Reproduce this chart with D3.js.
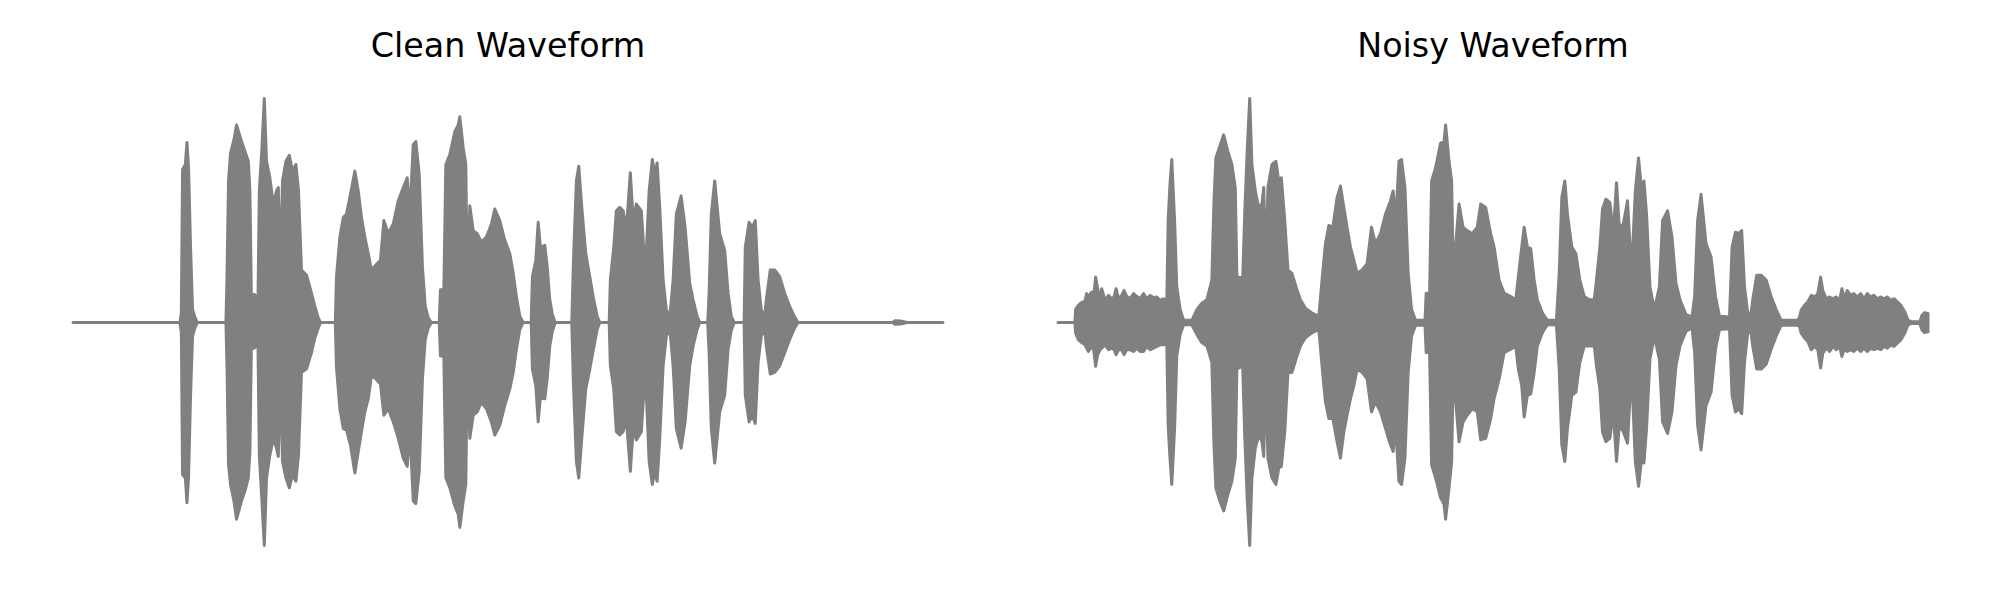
<!DOCTYPE html>
<html>
<head>
<meta charset="utf-8">
<script src="https://cdn.jsdelivr.net/npm/d3@7"></script>
<style>
  html, body { margin: 0; padding: 0; background: #ffffff; }
  svg { display: block; }
</style>
</head>
<body>
<div id="chart"></div>
<script>
// ---- Data (envelopes; time in s, amplitude normalized) ----
const titles = ["Clean Waveform", "Noisy Waveform"];

const cleanTime = [0.000,0.535,0.542,0.548,0.562,0.570,0.578,0.588,0.598,0.610,0.622,
  0.765,0.770,0.778,0.788,0.805,0.818,0.843,0.860,0.877,0.885,0.892,0.910,0.925,0.932,0.945,0.957,0.968,0.985,1.002,1.018,1.027,1.037,1.048,1.065,1.082,1.098,1.115,1.128,1.143,1.168,1.193,1.210,1.227,1.238,
  1.312,1.318,1.335,1.352,1.368,1.388,1.410,1.427,1.443,1.460,1.477,1.493,1.515,1.538,1.555,1.577,1.602,1.627,1.652,1.672,1.685,1.702,1.715,1.732,1.748,1.762,1.777,1.793,
  1.832,1.838,1.855,1.865,1.885,1.910,1.927,1.935,1.952,1.965,1.973,1.985,2.002,2.022,2.043,2.068,2.093,2.110,2.135,2.160,2.185,2.202,2.218,2.235,2.252,
  2.292,2.298,2.315,2.327,2.338,2.360,2.372,2.385,2.398,2.412,
  2.495,2.503,2.518,2.530,2.545,2.565,2.582,2.602,2.622,2.635,
  2.682,2.688,2.705,2.718,2.735,2.752,2.768,2.788,2.802,2.818,2.843,2.863,2.882,2.898,2.910,2.922,2.935,2.952,2.968,2.985,3.002,3.018,3.042,3.062,3.085,3.102,3.122,3.135,
  3.175,3.182,3.193,3.210,3.235,3.260,3.277,3.293,3.308,
  3.357,3.363,3.382,3.398,3.413,3.427,3.443,3.460,3.468,3.488,3.510,3.535,3.560,3.585,3.610,3.627,
  4.100,4.112,4.140,4.172,4.352];
const cleanUpper = [0,0,0.043,0.687,0.710,0.809,0.695,0.339,0.058,0.025,0,
  0,0.191,0.636,0.761,0.821,0.887,0.813,0.769,0.724,0.591,0.132,0.124,0.073,0.591,0.784,1.006,0.724,0.650,0.532,0.591,0.606,0.221,0.636,0.724,0.751,0.680,0.710,0.591,0.236,0.213,0.132,0.073,0.021,0,
  0,0.206,0.384,0.473,0.487,0.576,0.680,0.591,0.473,0.384,0.310,0.236,0.258,0.280,0.458,0.399,0.443,0.547,0.606,0.650,0.487,0.799,0.813,0.665,0.250,0.073,0.021,0,
  0,0.147,0.147,0.710,0.754,0.858,0.887,0.924,0.784,0.710,0.132,0.524,0.413,0.399,0.361,0.384,0.443,0.510,0.458,0.369,0.310,0.221,0.117,0.028,0,
  0,0.206,0.280,0.450,0.339,0.347,0.250,0.102,0.036,0,
  0,0.265,0.636,0.702,0.517,0.310,0.221,0.117,0.028,0,
  0,0.191,0.339,0.502,0.517,0.502,0.413,0.673,0.458,0.532,0.502,0.221,0.591,0.732,0.665,0.717,0.517,0.191,0.058,0.021,0.191,0.487,0.569,0.428,0.176,0.102,0.028,0,
  0,0.132,0.487,0.636,0.399,0.324,0.132,0.028,0,
  0,0.339,0.450,0.428,0.458,0.191,0.058,0.025,0.102,0.236,0.236,0.206,0.132,0.073,0.025,0,
  0,0.008,0.007,0,0];
const cleanLower = [0,0,-0.046,-0.683,-0.698,-0.809,-0.698,-0.327,-0.061,-0.024,0,
  0,-0.179,-0.639,-0.727,-0.801,-0.883,-0.801,-0.757,-0.698,-0.579,-0.120,-0.113,-0.076,-0.594,-0.801,-1.001,-0.698,-0.594,-0.520,-0.564,-0.601,-0.224,-0.624,-0.698,-0.742,-0.683,-0.713,-0.594,-0.224,-0.209,-0.135,-0.068,-0.024,0,
  0,-0.201,-0.387,-0.476,-0.483,-0.550,-0.676,-0.579,-0.490,-0.401,-0.342,-0.239,-0.253,-0.276,-0.416,-0.387,-0.446,-0.520,-0.609,-0.646,-0.476,-0.801,-0.813,-0.668,-0.253,-0.076,-0.024,0,
  0,-0.150,-0.150,-0.698,-0.742,-0.824,-0.861,-0.920,-0.801,-0.727,-0.127,-0.520,-0.416,-0.401,-0.357,-0.387,-0.446,-0.505,-0.461,-0.372,-0.298,-0.224,-0.120,-0.031,0,
  0,-0.209,-0.283,-0.446,-0.335,-0.342,-0.253,-0.105,-0.039,0,
  0,-0.268,-0.624,-0.698,-0.520,-0.298,-0.224,-0.127,-0.031,0,
  0,-0.194,-0.298,-0.490,-0.505,-0.490,-0.431,-0.668,-0.476,-0.527,-0.490,-0.209,-0.624,-0.727,-0.668,-0.713,-0.520,-0.194,-0.061,-0.024,-0.194,-0.476,-0.564,-0.446,-0.194,-0.105,-0.031,0,
  0,-0.135,-0.476,-0.631,-0.401,-0.327,-0.120,-0.034,0,
  0,-0.327,-0.446,-0.416,-0.453,-0.179,-0.061,-0.024,-0.105,-0.231,-0.224,-0.194,-0.135,-0.076,-0.024,0,
  0,-0.008,-0.007,0,0];

const noisyTime = [0.000,0.082,
  0.085,0.088,0.102,0.118,0.135,0.143,0.152,0.168,0.178,0.188,0.198,0.210,0.218,0.235,0.252,0.268,0.280,0.290,0.302,0.318,0.330,0.343,0.360,0.377,0.393,0.410,0.427,0.443,0.460,0.477,0.493,0.510,0.527,0.543,
  0.550,0.558,0.568,0.582,0.593,0.610,0.627,0.668,0.693,0.718,0.743,0.768,0.778,0.788,0.805,0.827,0.848,0.868,0.885,0.893,0.922,0.932,0.945,0.957,0.968,0.985,1.002,1.018,1.027,1.037,1.048,1.068,1.088,1.102,1.115,1.132,1.148,1.168,1.188,1.210,1.235,1.268,1.302,
  1.318,1.335,1.352,1.372,1.393,1.410,1.427,1.443,1.460,1.477,1.493,1.518,1.543,1.565,1.585,1.610,1.635,1.660,1.673,1.685,1.702,1.715,1.732,1.748,1.765,1.785,1.832,
  1.838,1.855,1.865,1.885,1.910,1.927,1.935,1.952,1.965,1.973,2.002,2.022,2.043,2.068,2.093,2.110,2.135,2.160,2.177,2.202,2.227,2.260,2.285,
  2.298,2.315,2.327,2.343,2.360,2.377,2.393,2.418,2.443,2.488,
  2.502,2.515,2.530,2.543,2.565,2.585,2.605,2.627,2.652,2.677,
  2.688,2.705,2.718,2.735,2.755,2.772,2.788,2.802,2.822,2.843,2.863,2.882,2.898,2.912,2.925,2.938,2.955,2.977,3.002,3.018,3.043,3.065,3.085,3.105,3.135,3.165,
  3.178,3.193,3.210,3.235,3.260,3.282,3.302,3.352,
  3.365,3.382,3.398,3.413,3.427,3.443,3.460,3.468,3.488,3.510,3.535,3.560,3.585,3.610,3.693,
  3.702,3.710,3.727,3.743,3.760,3.777,3.793,3.807,3.818,3.835,3.852,3.868,3.885,3.902,3.913,3.927,3.940,3.957,3.973,3.990,
  4.007,4.023,4.040,4.057,4.073,4.090,4.107,4.123,4.140,4.157,4.173,4.190,4.207,4.227,4.243,4.260,4.302,4.313,4.325,4.343];
const noisyUpper = [0,0,
  0.011,0.059,0.078,0.090,0.097,0.130,0.118,0.137,0.115,0.204,0.152,0.107,0.152,0.100,0.122,0.107,0.115,0.152,0.107,0.122,0.144,0.118,0.107,0.130,0.118,0.107,0.130,0.107,0.122,0.112,0.115,0.100,0.107,0.093,
  0.458,0.606,0.732,0.458,0.161,0.058,0.010,0.010,0.058,0.087,0.102,0.191,0.532,0.739,0.784,0.843,0.769,0.710,0.606,0.206,0.199,0.487,0.784,1.006,0.710,0.591,0.517,0.532,0.606,0.236,0.606,0.710,0.724,0.636,0.650,0.458,0.236,0.221,0.161,0.102,0.065,0.043,0.028,
  0.191,0.354,0.436,0.428,0.561,0.613,0.517,0.428,0.339,0.280,0.221,0.236,0.265,0.428,0.354,0.399,0.487,0.547,0.591,0.443,0.724,0.732,0.606,0.221,0.058,0.010,0.010,
  0.132,0.132,0.636,0.695,0.806,0.813,0.887,0.724,0.636,0.221,0.532,0.428,0.413,0.399,0.428,0.532,0.517,0.399,0.339,0.191,0.132,0.117,0.102,
  0.206,0.339,0.428,0.339,0.332,0.191,0.102,0.043,0.010,0.010,
  0.221,0.561,0.636,0.487,0.339,0.310,0.191,0.117,0.102,0.102,
  0.191,0.339,0.510,0.554,0.539,0.399,0.628,0.428,0.443,0.547,0.221,0.591,0.739,0.606,0.636,0.487,0.161,0.058,0.161,0.458,0.502,0.384,0.176,0.102,0.036,0.025,
  0.117,0.458,0.576,0.354,0.295,0.117,0.028,0.025,
  0.339,0.406,0.399,0.413,0.161,0.043,0.043,0.102,0.213,0.213,0.191,0.117,0.058,0.010,0.010,
  0.026,0.056,0.078,0.093,0.122,0.115,0.130,0.204,0.144,0.107,0.115,0.107,0.115,0.100,0.152,0.107,0.144,0.122,0.130,0.115,
  0.130,0.107,0.130,0.115,0.122,0.107,0.115,0.107,0.115,0.100,0.107,0.093,0.078,0.048,0.011,0.004,0.004,0.033,0.044,0.041];
const noisyLower = [0,0,
  -0.011,-0.048,-0.078,-0.090,-0.100,-0.115,-0.130,-0.107,-0.122,-0.196,-0.144,-0.122,-0.115,-0.100,-0.122,-0.115,-0.122,-0.144,-0.122,-0.122,-0.144,-0.122,-0.122,-0.130,-0.115,-0.130,-0.130,-0.107,-0.122,-0.115,-0.107,-0.100,-0.100,-0.093,
  -0.461,-0.594,-0.727,-0.476,-0.150,-0.053,-0.010,-0.010,-0.053,-0.090,-0.105,-0.179,-0.535,-0.742,-0.794,-0.846,-0.772,-0.713,-0.609,-0.209,-0.194,-0.505,-0.801,-1.001,-0.698,-0.564,-0.505,-0.535,-0.601,-0.224,-0.609,-0.698,-0.727,-0.653,-0.646,-0.490,-0.224,-0.224,-0.164,-0.105,-0.068,-0.046,-0.031,
  -0.194,-0.357,-0.431,-0.431,-0.535,-0.609,-0.490,-0.416,-0.342,-0.283,-0.209,-0.224,-0.253,-0.401,-0.357,-0.401,-0.476,-0.550,-0.579,-0.461,-0.713,-0.727,-0.609,-0.224,-0.061,-0.012,-0.012,
  -0.135,-0.135,-0.639,-0.698,-0.787,-0.816,-0.883,-0.742,-0.624,-0.224,-0.535,-0.446,-0.416,-0.387,-0.401,-0.527,-0.520,-0.431,-0.342,-0.253,-0.135,-0.120,-0.105,
  -0.209,-0.283,-0.424,-0.327,-0.320,-0.224,-0.105,-0.046,-0.010,-0.010,
  -0.209,-0.550,-0.624,-0.476,-0.327,-0.313,-0.179,-0.105,-0.105,-0.105,
  -0.194,-0.298,-0.490,-0.535,-0.520,-0.401,-0.624,-0.461,-0.490,-0.542,-0.209,-0.624,-0.735,-0.624,-0.631,-0.476,-0.164,-0.061,-0.164,-0.446,-0.498,-0.401,-0.194,-0.105,-0.039,-0.024,
  -0.135,-0.461,-0.572,-0.372,-0.313,-0.120,-0.031,-0.028,
  -0.327,-0.401,-0.387,-0.409,-0.179,-0.046,-0.046,-0.105,-0.209,-0.209,-0.187,-0.120,-0.061,-0.012,-0.012,
  -0.019,-0.048,-0.070,-0.085,-0.122,-0.107,-0.122,-0.204,-0.137,-0.115,-0.130,-0.107,-0.122,-0.107,-0.152,-0.115,-0.130,-0.122,-0.130,-0.115,
  -0.130,-0.115,-0.130,-0.115,-0.122,-0.115,-0.122,-0.107,-0.115,-0.100,-0.107,-0.093,-0.078,-0.048,-0.011,-0.004,-0.004,-0.033,-0.045,-0.041];

// ---- Layout ----
const W = 2000, H = 600;
const color = "#808080";
const panels = [
  { title: titles[0], time: cleanTime, upper: cleanUpper, lower: cleanLower, left: 29.5 },
  { title: titles[1], time: noisyTime, upper: noisyUpper, lower: noisyLower, left: 1014.5 }
];
const axW = 957, axTop = 76.2, axBottom = 567.8;

const svg = d3.select("#chart").append("svg")
  .attr("width", W).attr("height", H)
  .style("font-family", "'DejaVu Sans', sans-serif");

panels.forEach(p => {
  const pts = p.time.map((t, i) => ({ t, hi: p.upper[i], lo: p.lower[i] }));
  const [t0, t1] = d3.extent(p.time);
  const xPad = (t1 - t0) * 0.05;
  const yLo = d3.min(p.lower), yHi = d3.max(p.upper);
  const yPad = (yHi - yLo) * 0.05;

  const x = d3.scaleLinear().domain([t0 - xPad, t1 + xPad]).range([p.left, p.left + axW]);
  const y = d3.scaleLinear().domain([yLo - yPad, yHi + yPad]).range([axBottom, axTop]);

  const area = d3.area()
    .x(d => x(d.t))
    .y0(d => y(d.lo))
    .y1(d => y(d.hi));

  svg.append("path")
    .datum(pts)
    .attr("d", area)
    .attr("fill", color)
    .attr("stroke", color)
    .attr("stroke-width", 3)
    .attr("stroke-linejoin", "round")
    .attr("stroke-linecap", "round");

  svg.append("text")
    .attr("x", p.left + axW / 2)
    .attr("y", 57)
    .attr("text-anchor", "middle")
    .attr("font-size", "33.33px")
    .attr("fill", "#000000")
    .text(p.title);
});
</script>
</body>
</html>
